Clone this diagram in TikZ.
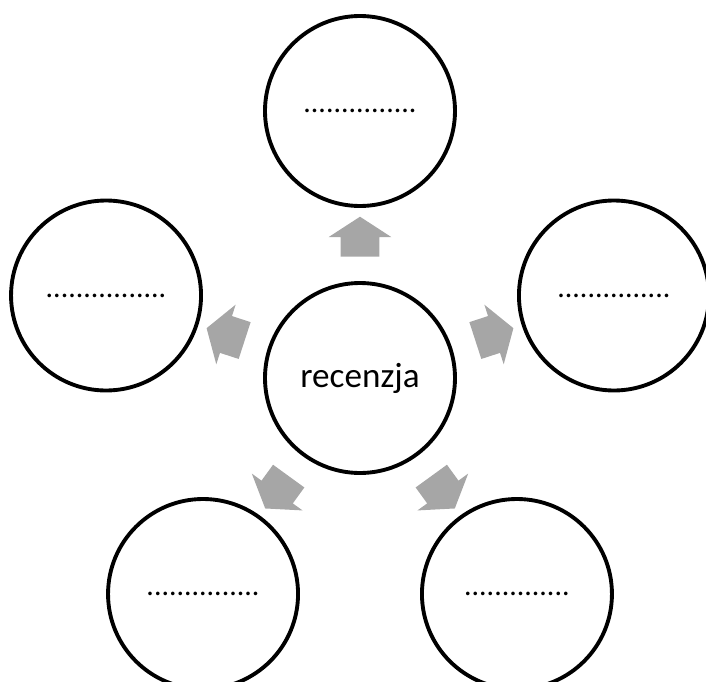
\documentclass[tikz,border=0pt]{standalone}
\usepackage{fontspec}
\setmainfont{Carlito}
\usepackage{tikz}
\usetikzlibrary{shapes.arrows}
\definecolor{arrowgray}{RGB}{166,166,166}

\begin{document}
\begin{tikzpicture}[
  bubble/.style={circle, draw=black, line width=2.2pt, fill=white, minimum size=3.8cm, inner sep=0pt},
  blockarrow/.style={single arrow, fill=arrowgray, draw=none, minimum height=0.8cm, single arrow head extend=0.24cm, single arrow tip angle=114, inner xsep=0pt, inner ysep=0.38cm}
]
\useasboundingbox (-7.2,-6.06) rectangle (6.92,7.56);
\node[bubble, font=\fontsize{20}{24}\selectfont] (recenzja) at (0,0) {recenzja};
\node[bubble, font=\fontsize{17}{20}\selectfont] (top) at (0,5.34) {...............};
\node[bubble, font=\fontsize{17}{20}\selectfont] (left) at (-5.079,1.65) {................};
\node[bubble, font=\fontsize{17}{20}\selectfont] (right) at (5.079,1.65) {...............};
\node[bubble, font=\fontsize{17}{20}\selectfont] (botleft) at (-3.139,-4.32) {...............};
\node[bubble, font=\fontsize{17}{20}\selectfont] (botright) at (3.139,-4.32) {..............};
% arrows
\node[blockarrow, rotate=90] (atop) at (0,2.7) {};
\node[blockarrow, rotate=162] (aleft) at (-2.568,0.834) {};
\node[blockarrow, rotate=18] (aright) at (2.568,0.834) {};
\node[blockarrow, rotate=234] (abotleft) at (-1.587,-2.184) {};
\node[blockarrow, rotate=306] (abotright) at (1.587,-2.184) {};
\end{tikzpicture}
\end{document}
